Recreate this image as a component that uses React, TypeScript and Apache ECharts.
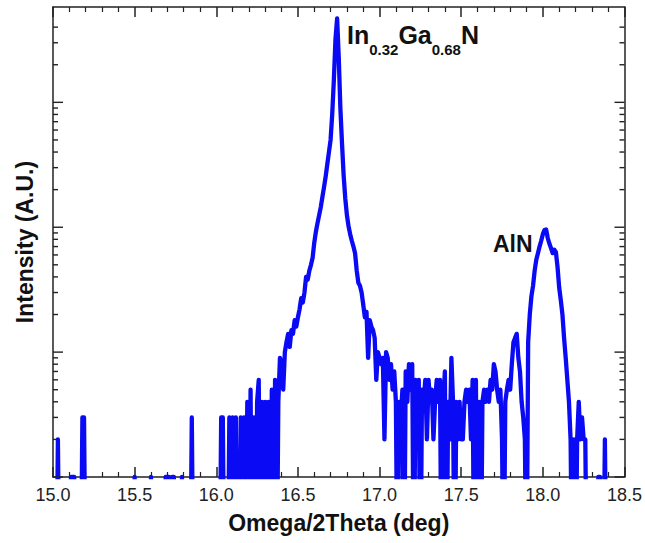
import { useEffect, useRef } from "react";
import * as echarts from "echarts";

// Omega/2Theta scan: one count value per 0.01 deg step, starting at 15.00 deg.
const SCAN_START = 15.0;
const SCAN_STEP = 0.01;

const counts: number[] = [
  // 15.00 - 15.99
  0, 0, 0, 2, 0, 0, 0, 0, 0, 0,
  0, 1, 1, 1, 0, 0, 0, 0, 3, 3,
  0, 0, 0, 0, 0, 0, 0, 0, 0, 0,
  0, 0, 0, 0, 0, 0, 0, 0, 0, 0,
  0, 0, 0, 0, 0, 0, 0, 0, 0, 0,
  1, 0, 0, 0, 0, 0, 0, 0, 0, 0,
  1, 0, 0, 0, 0, 0, 0, 0, 0, 1,
  1, 1, 0, 1, 1, 0, 0, 0, 0, 1,
  0, 0, 0, 0, 0, 3, 0, 0, 0, 0,
  0, 0, 0, 0, 0, 0, 0, 0, 0, 0,
  // 16.00 - 16.99
  0, 0, 0, 3, 3, 0, 0, 0, 3, 0,
  3, 0, 3, 0, 0, 3, 2, 3, 0, 4,
  0, 5, 0, 3, 0, 4, 6, 0, 4, 0,
  4, 0, 4, 0, 5, 0, 6, 0, 4, 9,
  8, 5, 10, 12, 14, 11, 15, 14, 18, 16,
  19, 22, 27, 25, 30, 40, 38, 45, 50, 57,
  75, 92, 108, 125, 145, 175, 210, 255, 320, 400,
  500, 800, 1500, 3200, 4700, 2300, 900, 470, 260, 170,
  125, 102, 88, 78, 70, 62, 45, 36, 34, 30,
  24, 19, 21, 9, 18, 16, 15, 13, 6, 10,
  // 17.00 - 17.99
  9, 8, 9, 2, 10, 9, 6, 8, 5, 7,
  4, 0, 4, 3, 5, 0, 7, 4, 8, 5,
  8, 0, 6, 4, 6, 0, 5, 4, 6, 2,
  6, 4, 5, 2, 4, 6, 4, 6, 0, 4,
  7, 0, 4, 2, 9, 4, 0, 4, 2, 4,
  2, 2, 4, 5, 4, 5, 2, 6, 0, 6,
  0, 4, 0, 4, 5, 4, 5, 4, 6, 5,
  8, 7, 5, 4, 5, 2, 0, 4, 5, 6,
  5, 8, 12, 13, 14, 9, 7, 4, 3, 2,
  0, 12, 20, 28, 34, 45, 55, 62, 70, 78,
  // 18.00 - 18.50
  88, 95, 96, 82, 74, 68, 62, 66, 63, 48,
  33, 26, 20, 13, 9, 6, 4, 2, 0, 2,
  0, 2, 4, 2, 3, 2, 2, 0, 0, 0,
  0, 0, 0, 0, 1, 1, 0, 0, 2, 0,
  0, 0, 0, 0, 0, 0, 0, 0, 0, 0,
  0,
];

// Log intensity axis range and its tick marks (labels are not shown).
const Y_MIN = 1;
const Y_MAX = 5800;
const decadeTicks = [1, 10, 100, 1000];
const minorTicks = [
  2, 3, 4, 5, 6, 7, 8, 9,
  20, 30, 40, 50, 60, 70, 80, 90,
  200, 300, 400, 500, 600, 700, 800, 900,
  2000, 3000, 4000,
];

// Zero-count channels are placed below the axis floor so the trace drops out of the plot.
const ZERO_FLOOR = 0.1;

const X_MIN = 15.0;
const X_MAX = 18.5;
const X_INTERVAL = 0.5;

const FONT = "'Liberation Sans', Arial, Helvetica, sans-serif";
const FRAME = "#222";

export default function App() {
  const ref = useRef<HTMLDivElement>(null);

  useEffect(() => {
    if (!ref.current) return;
    const chart = echarts.init(ref.current, null, { renderer: "svg" });

    const scan = counts.map((c, i) => [
      Number((SCAN_START + i * SCAN_STEP).toFixed(2)),
      c > 0 ? c : ZERO_FLOOR,
    ]);

    const yTicks = [
      ...decadeTicks.map((v) => [X_MIN, v, 1]),
      ...minorTicks.map((v) => [X_MIN, v, 0]),
    ];

    const xAxisBase = {
      type: "value" as const,
      min: X_MIN,
      max: X_MAX,
      interval: X_INTERVAL,
      axisLine: { show: true, onZero: false, lineStyle: { color: FRAME, width: 1.5 } },
      axisTick: { show: true, inside: true, length: 10, lineStyle: { color: FRAME, width: 1.5 } },
      minorTick: { show: true, splitNumber: 5, length: 5, lineStyle: { color: FRAME, width: 1.2 } },
      splitLine: { show: false },
      minorSplitLine: { show: false },
    };

    const yAxisBase = {
      type: "log" as const,
      logBase: 10,
      min: Y_MIN,
      max: Y_MAX,
      axisLine: { show: true, lineStyle: { color: FRAME, width: 1.5 } },
      axisTick: { show: false },
      axisLabel: { show: false },
      splitLine: { show: false },
    };

    chart.setOption({
      animation: false,
      backgroundColor: "#ffffff",
      textStyle: { fontFamily: FONT },
      grid: { left: 53, right: 17, top: 7, bottom: 66, containLabel: false },
      xAxis: [
        {
          ...xAxisBase,
          position: "bottom",
          axisLabel: {
            show: true,
            margin: 9,
            fontSize: 18,
            color: "#222",
            fontFamily: FONT,
            formatter: (v: number) => v.toFixed(1),
          },
          name: "Omega/2Theta (deg)",
          nameLocation: "middle",
          nameGap: 34,
          nameTextStyle: { fontSize: 23, fontWeight: "bold", color: "#111", fontFamily: FONT },
        },
        {
          ...xAxisBase,
          position: "top",
          axisLabel: { show: false },
        },
      ],
      yAxis: [
        {
          ...yAxisBase,
          position: "left",
          name: "Intensity (A.U.)",
          nameLocation: "middle",
          nameGap: 17,
          nameTextStyle: { fontSize: 23, fontWeight: "bold", color: "#111", fontFamily: FONT },
        },
        {
          ...yAxisBase,
          position: "right",
        },
      ],
      series: [
        {
          type: "line",
          xAxisIndex: 0,
          yAxisIndex: 0,
          data: scan,
          showSymbol: false,
          clip: true,
          lineStyle: { color: "#0a0af5", width: 4.3, join: "round", cap: "round" },
          itemStyle: { color: "#0a0af5" },
          z: 2,
        },
        {
          // log-scale tick marks on both vertical frame edges, pointing inward
          type: "custom",
          xAxisIndex: 0,
          yAxisIndex: 0,
          data: yTicks,
          encode: { x: 0, y: 1 },
          silent: true,
          z: 3,
          renderItem: (_params: any, api: any) => {
            const v = api.value(1);
            const len = api.value(2) ? 10 : 5;
            const left = api.coord([X_MIN, v]);
            const right = api.coord([X_MAX, v]);
            const style = { stroke: FRAME, lineWidth: 1.4 };
            return {
              type: "group",
              children: [
                { type: "line", shape: { x1: left[0], y1: left[1], x2: left[0] + len, y2: left[1] }, style },
                { type: "line", shape: { x1: right[0], y1: right[1], x2: right[0] - len, y2: right[1] }, style },
              ],
            };
          },
        },
      ],
      graphic: [
        {
          type: "text",
          left: 347,
          top: 22,
          style: {
            text: "{m|In}{s|0.32}{m|Ga}{s|0.68}{m|N}",
            fill: "#111",
            rich: {
              m: { fontSize: 25, fontWeight: "bold", lineHeight: 44, fontFamily: FONT, fill: "#111" },
              s: { fontSize: 15, fontWeight: "bold", lineHeight: 14, verticalAlign: "bottom", fontFamily: FONT, fill: "#111" },
            },
          },
        },
        {
          type: "text",
          left: 493,
          top: 232,
          style: { text: "AlN", fontSize: 23, fontWeight: "bold", fill: "#111", fontFamily: FONT },
        },
      ],
    });

    return () => chart.dispose();
  }, []);

  return (
    <div
      ref={ref}
      style={{ position: "absolute", left: 0, top: 0, width: 645, height: 543, background: "#fff" }}
    />
  );
}
